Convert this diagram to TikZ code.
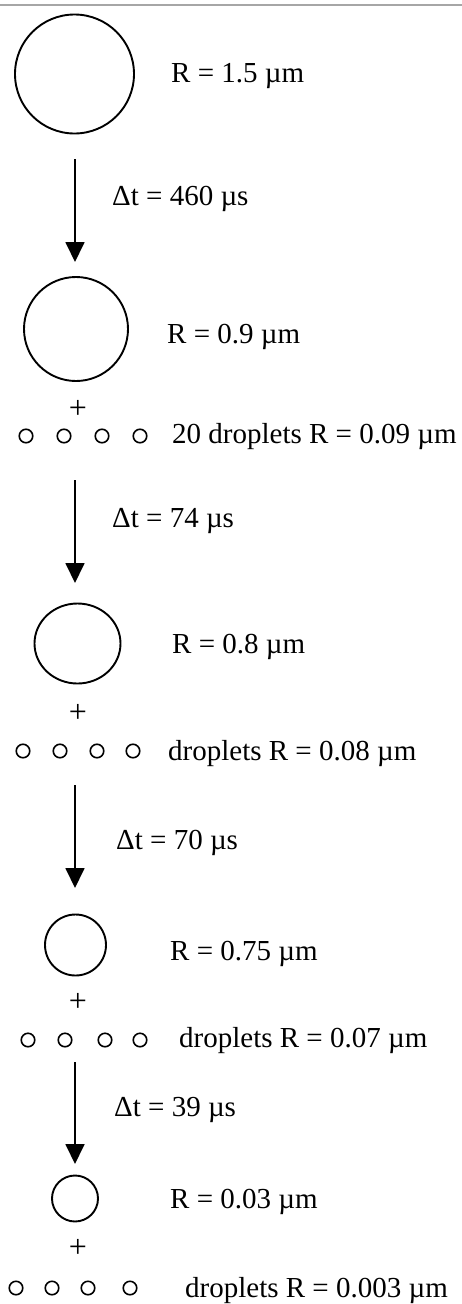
\documentclass[tikz,border=0pt]{standalone}
\usepackage{fontspec}
\setmainfont{Liberation Serif}
\usetikzlibrary{arrows.meta,shapes.geometric}
\begin{document}
\begin{tikzpicture}[x=1pt,y=-1pt,
  bigdrop/.style={circle,draw,line width=1.9pt,inner sep=0pt},
  smalldrop/.style={circle,draw,line width=1.6pt,inner sep=0pt,minimum size=13.5pt},
  lbl/.style={anchor=base west,inner sep=0pt,font=\fontsize{29}{33}\selectfont},
  plus/.style={anchor=center,inner sep=0pt,font=\fontsize{32}{36}\selectfont},
  flow/.style={line width=1.8pt,-{Triangle[width=19pt,length=20pt]}}]
\useasboundingbox (0,0) rectangle (462,1304);
\draw[line width=1.5pt,black!35] (0,5) -- (462,5);
% stage 1
\node[bigdrop,minimum size=119pt] (c1) at (74.5,74) {};
\node[lbl] (r1) at (171,82) {R = 1.5 µm};
\coordinate (a1s) at (75,159);
\coordinate (a1e) at (75,262);
\draw[flow] (a1s) -- (a1e);
\node[lbl] (t1) at (112,205) {Δt = 460 µs};
% stage 2
\node[bigdrop,minimum size=104pt] (c2) at (76,329) {};
\node[lbl] (r2) at (167,343) {R = 0.9 µm};
\node[plus] (p2) at (78,409) {+};
\node[smalldrop] (d21) at (26,436) {};
\node[smalldrop] (d22) at (64,436) {};
\node[smalldrop] (d23) at (102,436) {};
\node[smalldrop] (d24) at (140,436) {};
\node[lbl] (n2) at (172,443) {20 droplets R = 0.09 µm};
\coordinate (a2s) at (75,480);
\coordinate (a2e) at (75,583);
\draw[flow] (a2s) -- (a2e);
\node[lbl] (t2) at (112,527) {Δt = 74 µs};
% stage 3
\node[ellipse,draw,line width=1.9pt,inner sep=0pt,minimum width=86pt,minimum height=80pt] (c3) at (77.5,643.5) {};
\node[lbl] (r3) at (172,653) {R = 0.8 µm};
\node[plus] (p3) at (78,713) {+};
\node[smalldrop] (d31) at (23,751) {};
\node[smalldrop] (d32) at (60,751) {};
\node[smalldrop] (d33) at (97,751) {};
\node[smalldrop] (d34) at (133,751) {};
\node[lbl] (n3) at (168,760) {droplets R = 0.08 µm};
\coordinate (a3s) at (75,785);
\coordinate (a3e) at (75,888);
\draw[flow] (a3s) -- (a3e);
\node[lbl] (t3) at (116,849) {Δt = 70 µs};
% stage 4
\node[bigdrop,minimum size=61pt] (c4) at (75.5,945) {};
\node[lbl] (r4) at (170,960) {R = 0.75 µm};
\node[plus] (p4) at (78,1002) {+};
\node[smalldrop] (d41) at (28,1040) {};
\node[smalldrop] (d42) at (65,1040) {};
\node[smalldrop] (d43) at (105,1040) {};
\node[smalldrop] (d44) at (140,1040) {};
\node[lbl] (n4) at (179,1047) {droplets R = 0.07 µm};
\coordinate (a4s) at (75,1062);
\coordinate (a4e) at (75,1164);
\draw[flow] (a4s) -- (a4e);
\node[lbl] (t4) at (114,1116) {Δt = 39 µs};
% stage 5
\node[bigdrop,minimum size=46pt] (c5) at (75,1198.5) {};
\node[lbl] (r5) at (170,1208) {R = 0.03 µm};
\node[plus] (p5) at (78,1248) {+};
\node[smalldrop] (d51) at (16,1288) {};
\node[smalldrop] (d52) at (52,1288) {};
\node[smalldrop] (d53) at (88,1288) {};
\node[smalldrop] (d54) at (130,1288) {};
\node[lbl] (n5) at (185,1297) {droplets R = 0.003 µm};
\end{tikzpicture}
\end{document}
